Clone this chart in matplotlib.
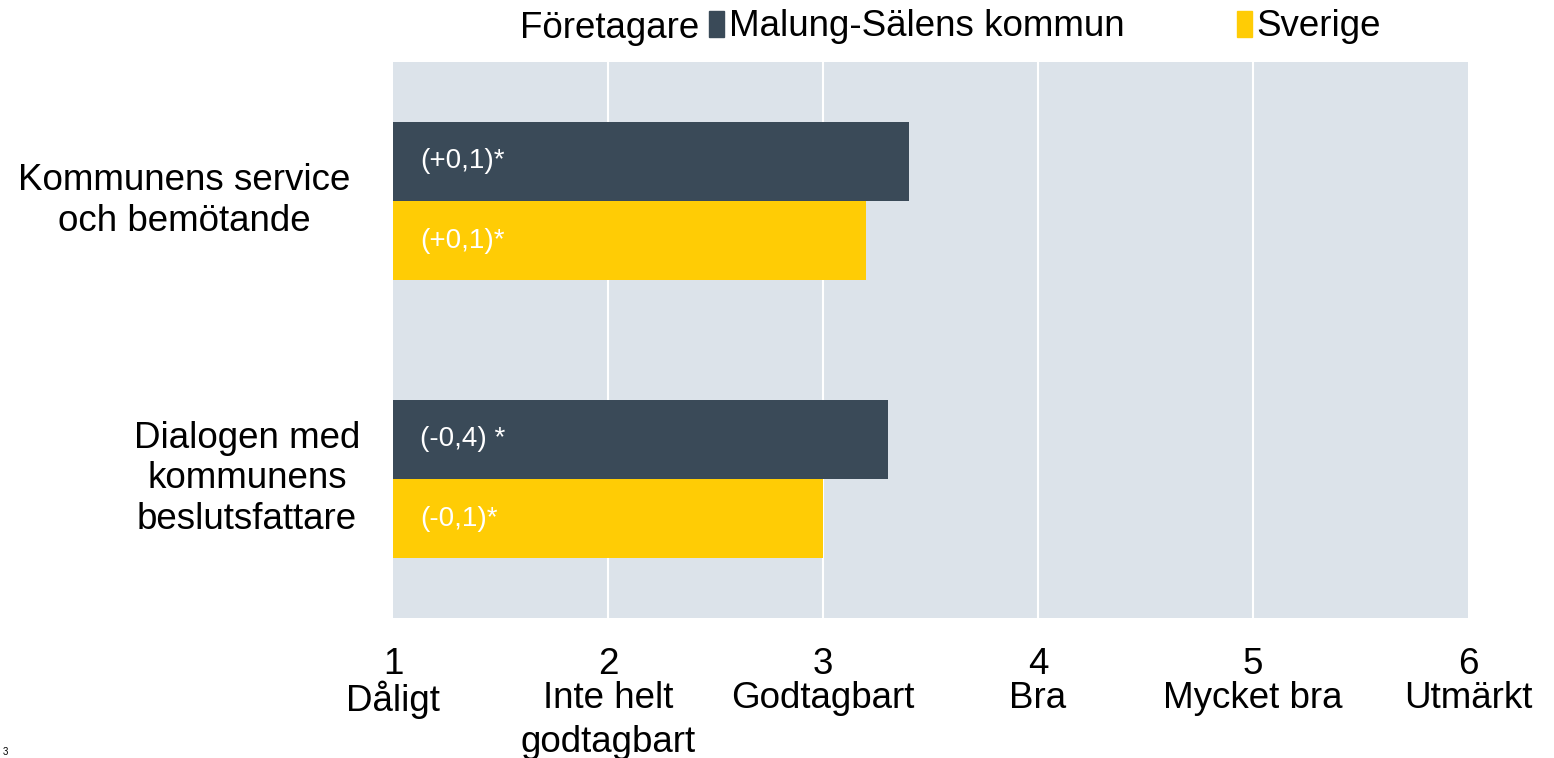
import matplotlib
matplotlib.use("Agg")
import matplotlib.pyplot as plt
import matplotlib.transforms as mtransforms
from matplotlib.patches import Patch
import numpy as np

plt.rcParams['font.family'] = ['Liberation Sans', 'DejaVu Sans']

categories = ["Kommunens service\noch bemötande", "Dialogen med\nkommunens\nbeslutsfattare"]
series_names = ["Malung-Sälens kommun", "Sverige"]
malung_values = [3.4, 3.3]
sverige_values = [3.2, 3.0]
malung_labels = ["(+0,1)*", "(-0,4) *"]
sverige_labels = ["(+0,1)*", "(-0,1)*"]
scale_ticks = [1, 2, 3, 4, 5, 6]
scale_names = ["Dåligt", "Inte helt\ngodtagbart", "Godtagbart", "Bra", "Mycket bra", "Utmärkt"]
legend_prefix = "Företagare i"

dark = "#3A4A58"
yellow = "#FFCC05"
bg = "#DCE3EA"
fs = 26.5

fig = plt.figure(figsize=(15.54, 7.58), dpi=100)
ax = fig.add_axes([393/1554, 1-618/758, (1468-393)/1554, (618-62)/758])
ax.set_facecolor(bg)

y = np.arange(len(categories))
h = 0.285
base = 1
ax.barh(y - h/2, np.array(malung_values) - base, left=base, height=h, color=dark, zorder=3)
ax.barh(y + h/2, np.array(sverige_values) - base, left=base, height=h, color=yellow, zorder=3)

for i in range(len(categories)):
    ax.text(1.125, y[i] - h/2, malung_labels[i], color="white", fontsize=20, va="center", ha="left", zorder=4)
    ax.text(1.125, y[i] + h/2, sverige_labels[i], color="white", fontsize=20, va="center", ha="left", zorder=4)

ax.set_xlim(1, 6)
ax.set_ylim(1.5, -0.5)
ax.set_xticks(scale_ticks)
ax.set_xticklabels([str(t) for t in scale_ticks], fontsize=fs)
ax.tick_params(axis='x', length=0, pad=21)
for t in scale_ticks[1:-1]:
    ax.axvline(t, color="white", lw=1.5, zorder=1)

ax.set_yticks(y)
ax.set_yticklabels([])
ax.tick_params(axis='y', length=0)
ytrans = mtransforms.blended_transform_factory(fig.transFigure, ax.transData)
label_right = [350, 360]
for i, cat in enumerate(categories):
    ax.text(label_right[i]/1554, y[i], cat, transform=ytrans, fontsize=fs, ha="right", va="center",
            multialignment="center", linespacing=1.2)

for s in ax.spines.values():
    s.set_visible(False)

trans = mtransforms.blended_transform_factory(ax.transData, fig.transFigure)
for t, name in zip(scale_ticks, scale_names):
    ax.text(t, 1-681/758, name, transform=trans, fontsize=fs, ha="center", va="top", linespacing=1.32)

handles = [Patch(color=dark), Patch(color=yellow)]
fig.legend(handles, series_names, loc="center left", bbox_to_anchor=(709/1554, 1-27/758),
           ncol=2, frameon=False, fontsize=fs, handlelength=0.42, handleheight=0.7,
           handletextpad=0.12, columnspacing=3.05, borderaxespad=0, borderpad=0)
fig.text(718/1554, 1-28/758, legend_prefix, fontsize=fs, ha="right", va="center", zorder=0)

fig.text(3/1554, 1-752/758, "3", fontsize=7, ha="left", va="center")

fig.savefig("out.png", dpi=100)
